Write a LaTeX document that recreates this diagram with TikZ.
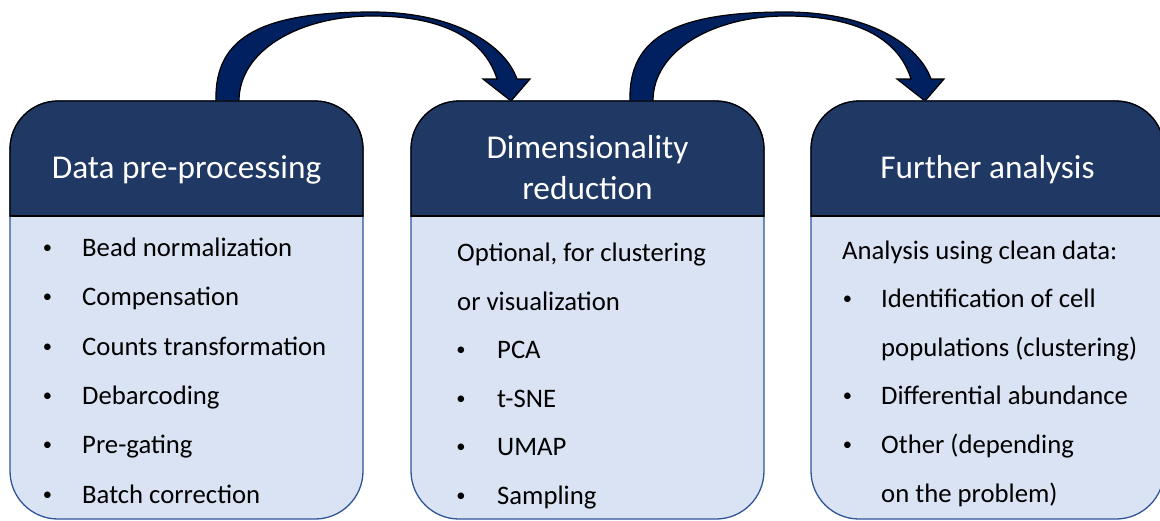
\documentclass[tikz,border=0pt]{standalone}
\usepackage{fontspec}
\setmainfont{Carlito}
\definecolor{headcol}{HTML}{203864}
\definecolor{bodycol}{HTML}{DAE3F3}
\definecolor{bodyline}{HTML}{2F5597}
\definecolor{arrowcol}{HTML}{002060}
\begin{document}
\begin{tikzpicture}[x=1pt,y=-1pt,
  headtxt/.style={text=white, font=\fontsize{33.3}{40}\selectfont, inner sep=0pt, anchor=base},
  bodytxt/.style={text=black, font=\fontsize{26.7}{32}\selectfont, inner sep=0pt, anchor=base west},
  bul/.style={text=black, font=\fontsize{18.5}{20}\selectfont, inner sep=0pt, anchor=base},
  flowarrow/.style={fill=arrowcol, draw=black, line width=1.2pt, line join=miter}]
\useasboundingbox (0,0) rectangle (1160,520);
\clip (0,0) rectangle (1160,520);

% curved arrows
\foreach \dx/\nm in {0/a, 414/b}{
  \begin{scope}[xshift=\dx]
    \coordinate (start\nm) at (216,101);
    \coordinate (tip\nm) at (511,101);
    \filldraw[flowarrow] (start\nm) .. controls (214,35) and (265,12) .. (372,12)
      .. controls (455,12) and (505,45) .. (517,79)
      -- (530,79) -- (tip\nm) -- (483,79) -- (497,79)
      .. controls (485,40) and (445,16) .. (372,16)
      .. controls (300,16) and (239,50) .. (239,101) -- cycle;
  \end{scope}
}

% boxes
\foreach \xa in {10,411,811}{
  \filldraw[fill=bodycol, draw=bodyline, line width=1.3pt, rounded corners=48] (\xa,101) rectangle (\xa+353,519);
  \begin{scope}
    \clip (\xa-5,90) rectangle (\xa+358,216);
    \filldraw[fill=headcol, draw=black, line width=1.3pt, rounded corners=48] (\xa,101) rectangle (\xa+353,519);
  \end{scope}
  \draw[black, line width=1.3pt] (\xa,216) -- (\xa+353,216);
}

% headers
\node[headtxt] (h1) at (186.5,178) {Data pre-processing};
\node[headtxt] (h2a) at (587.5,158) {Dimensionality};
\node[headtxt] (h2b) at (587.5,199) {reduction};
\node[headtxt] (h3) at (987.5,178) {Further analysis};

% box 1
\foreach \yy/\tx [count=\i] in {256/Bead normalization, 305.5/Compensation, 355/Counts transformation, 404/Debarcoding, 453.5/Pre-gating, 503/Batch correction}{
  \node[bul] (p\i) at (47.5,\yy-3) {•};
  \node[bodytxt] (a\i) at (82,\yy) {\tx};
}

% box 2
\node[bodytxt] (o1) at (457,261) {Optional, for clustering};
\node[bodytxt] (o2) at (457,310) {or visualization};
\foreach \yy/\tx [count=\i] in {358/PCA, 407/t-SNE, 455.5/UMAP, 504/Sampling}{
  \node[bul] (q\i) at (461,\yy-3) {•};
  \node[bodytxt] (m\i) at (497,\yy) {\tx};
}

% box 3
\node[bodytxt] (c0) at (842,259) {Analysis using clean data:};
\node[bul] (r1) at (847.5,307.5-3) {•};
\node[bodytxt] (c1) at (881,307.5) {Identification of cell};
\node[bodytxt] (c2) at (881,356) {populations (clustering)};
\node[bul] (r2) at (847.5,404.5-3) {•};
\node[bodytxt] (c3) at (881,404.5) {Differential abundance};
\node[bul] (r3) at (847.5,453-3) {•};
\node[bodytxt] (c4) at (881,453) {Other (depending};
\node[bodytxt] (c5) at (881,502) {on the problem)};
\end{tikzpicture}
\end{document}
